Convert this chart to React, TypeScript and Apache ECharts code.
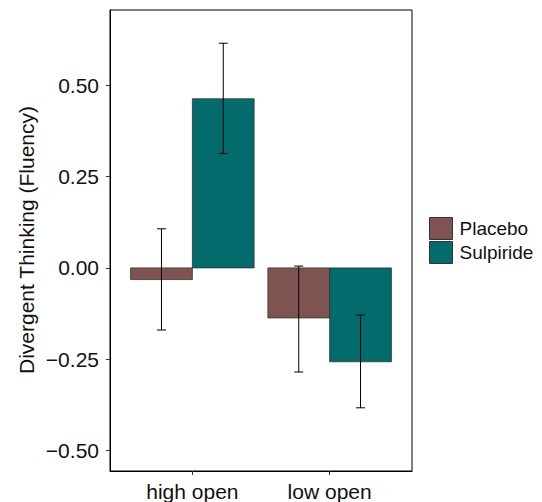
import React, { useEffect, useRef } from "react";
import * as echarts from "echarts";

const categories = ["high open", "low open"];
const groups = ["Placebo", "Sulpiride"];
const groupColors = ["#7f5350", "#036b6c"];
const placeboMean = [-0.032, -0.137];
const placeboLow = [-0.17, -0.285];
const placeboHigh = [0.107, 0.005];
const sulpirideMean = [0.463, -0.257];
const sulpirideLow = [0.313, -0.383];
const sulpirideHigh = [0.615, -0.129];
const yTicks = [-0.5, -0.25, 0, 0.25, 0.5];

const FONT = '"Liberation Sans", Arial, Helvetica, sans-serif';

export default function App() {
  const ref = useRef<HTMLDivElement>(null);
  useEffect(() => {
    if (!ref.current) return;
    const chart = echarts.init(ref.current, undefined, { renderer: "svg" });
    const means = [placeboMean, sulpirideMean];
    const lows = [placeboLow, sulpirideLow];
    const highs = [placeboHigh, sulpirideHigh];
    const offsets = [-0.225, 0.225];
    const half = 0.225;

    const barSeries = groups.map((g, gi) => ({
      type: "custom",
      name: g,
      z: 2,
      itemStyle: { color: groupColors[gi], borderColor: "#333", borderWidth: 1 },
      data: categories.map((_, ci) => [ci + 1, means[gi][ci]]),
      encode: { x: 0, y: 1 },
      renderItem: (_p: any, api: any) => {
        const x = api.value(0) + offsets[gi];
        const v = api.value(1);
        const a = api.coord([x - half, v]);
        const b = api.coord([x + half, 0]);
        return {
          type: "rect",
          shape: {
            x: Math.min(a[0], b[0]),
            y: Math.min(a[1], b[1]),
            width: Math.abs(b[0] - a[0]),
            height: Math.abs(b[1] - a[1]),
          },
          style: { fill: groupColors[gi], stroke: "#333", lineWidth: 0.8 },
        };
      },
    }));

    const errSeries = groups.map((g, gi) => ({
      type: "custom",
      name: g + " error",
      z: 5,
      data: categories.map((_, ci) => [ci + 1, lows[gi][ci], highs[gi][ci]]),
      encode: { x: 0, y: [1, 2] },
      renderItem: (_p: any, api: any) => {
        const x = api.value(0) + offsets[gi];
        const top = api.coord([x, api.value(2)]);
        const bot = api.coord([x, api.value(1)]);
        const cap = 4.5;
        const st = { stroke: "#000", lineWidth: 1 };
        return {
          type: "group",
          children: [
            { type: "line", shape: { x1: top[0], y1: top[1], x2: bot[0], y2: bot[1] }, style: st },
            { type: "line", shape: { x1: top[0] - cap, y1: top[1], x2: top[0] + cap, y2: top[1] }, style: st },
            { type: "line", shape: { x1: bot[0] - cap, y1: bot[1], x2: bot[0] + cap, y2: bot[1] }, style: st },
          ],
        };
      },
    }));

    chart.setOption({
      animation: false,
      backgroundColor: "#fff",
      textStyle: { fontFamily: FONT },
      grid: {
        left: 110,
        right: 130,
        top: 10,
        bottom: 31,
        show: true,
        borderColor: "#000",
        borderWidth: 1,
        containLabel: false,
      },
      legend: {
        orient: "vertical",
        left: 429,
        top: 217,
        padding: 0,
        itemWidth: 23,
        itemHeight: 22,
        itemGap: 1,
        icon: "rect",
        selectedMode: false,
        textStyle: { fontFamily: FONT, fontSize: 19, color: "#111", padding: [0, 0, 0, 2] },
        data: groups.map((g, gi) => ({
          name: g,
          itemStyle: { color: groupColors[gi], borderColor: "#333", borderWidth: 1 },
        })),
      },
      xAxis: {
        type: "value",
        min: 0.4,
        max: 2.6,
        splitLine: { show: false },
        axisLine: { show: true, onZero: false, lineStyle: { color: "#000", width: 1 } },
        axisTick: { show: true, length: 4, customValues: [1, 2], lineStyle: { color: "#333" } },
        axisLabel: {
          customValues: [1, 2],
          formatter: (v: number) => categories[Math.round(v) - 1] ?? "",
          fontFamily: FONT,
          fontSize: 21,
          color: "#111",
          margin: 10,
        },
      },
      yAxis: {
        type: "value",
        min: -0.556,
        max: 0.706,
        splitLine: { show: false },
        axisLine: { show: true, onZero: false, lineStyle: { color: "#000", width: 1 } },
        axisTick: { show: true, length: 4, customValues: yTicks, lineStyle: { color: "#333" } },
        axisLabel: {
          customValues: yTicks,
          formatter: (v: number) => (v < 0 ? "\u2212" : "") + Math.abs(v).toFixed(2),
          fontFamily: FONT,
          fontSize: 21,
          color: "#111",
          margin: 11,
        },
      },
      graphic: [
        {
          type: "text",
          x: 26,
          y: 240,
          rotation: Math.PI / 2,
          style: {
            text: "Divergent Thinking (Fluency)",
            fontFamily: FONT,
            fontSize: 21,
            fill: "#111",
            align: "center",
            verticalAlign: "middle",
          },
        },
      ],
      series: [...barSeries, ...errSeries],
    });
    return () => chart.dispose();
  }, []);
  return (
    <div
      ref={ref}
      style={{ position: "fixed", left: 0, top: 0, width: 542, height: 502 }}
    />
  );
}
